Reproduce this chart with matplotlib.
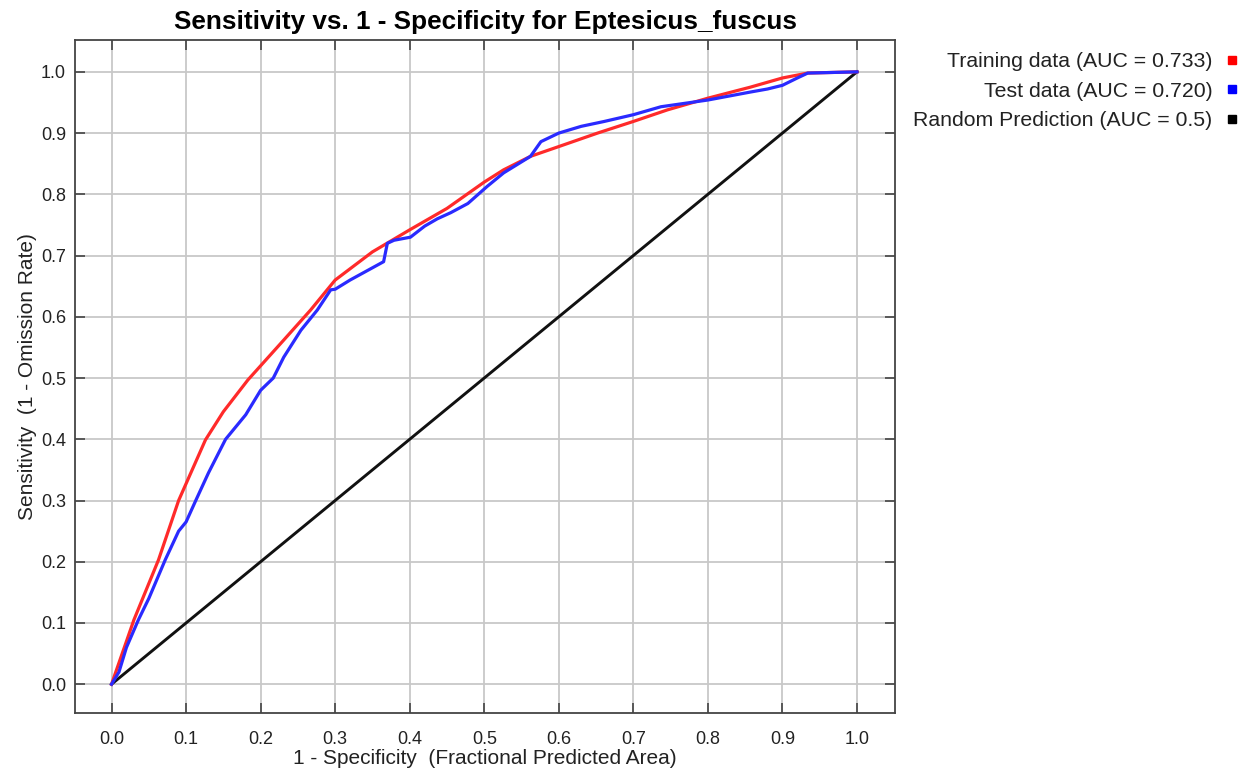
import matplotlib
matplotlib.use("Agg")
import matplotlib.pyplot as plt
from matplotlib.lines import Line2D

plt.rcParams['font.family'] = ['Liberation Sans', 'DejaVu Sans']

title = "Sensitivity vs. 1 - Specificity for Eptesicus_fuscus"
xlabel = "1 - Specificity  (Fractional Predicted Area)"
ylabel = "Sensitivity  (1 - Omission Rate)"
labels = ["Training data (AUC = 0.733)", "Test data (AUC = 0.720)", "Random Prediction (AUC = 0.5)"]
ticks = [0.0, 0.1, 0.2, 0.3, 0.4, 0.5, 0.6, 0.7, 0.8, 0.9, 1.0]

train_x = [0, 0.01, 0.03, 0.063, 0.09, 0.126, 0.15, 0.183, 0.2, 0.231, 0.267, 0.3, 0.35,
           0.4, 0.45, 0.5, 0.526, 0.562, 0.6, 0.652, 0.7, 0.746, 0.8, 0.857, 0.9, 0.934, 1.0]
train_y = [0, 0.035, 0.105, 0.203, 0.30, 0.399, 0.445, 0.497, 0.52, 0.562, 0.611, 0.66, 0.706,
           0.742, 0.777, 0.82, 0.84, 0.862, 0.878, 0.90, 0.919, 0.938, 0.957, 0.975, 0.99, 0.998, 1.0]

test_x = [0, 0.01, 0.02, 0.036, 0.05, 0.072, 0.09, 0.1, 0.113, 0.13, 0.153, 0.18, 0.2, 0.217,
          0.231, 0.254, 0.276, 0.294, 0.3, 0.32, 0.35, 0.365, 0.37, 0.379, 0.401, 0.42, 0.437,
          0.455, 0.478, 0.504, 0.526, 0.562, 0.576, 0.6, 0.63, 0.661, 0.7, 0.737, 0.8, 0.857,
          0.88, 0.9, 0.92, 0.934, 1.0]
test_y = [0, 0.02, 0.06, 0.105, 0.14, 0.203, 0.25, 0.265, 0.30, 0.345, 0.40, 0.44, 0.48, 0.50,
          0.534, 0.578, 0.611, 0.644, 0.645, 0.66, 0.68, 0.69, 0.72, 0.725, 0.73, 0.748, 0.76,
          0.77, 0.785, 0.813, 0.835, 0.862, 0.886, 0.90, 0.911, 0.919, 0.93, 0.943, 0.954, 0.967,
          0.972, 0.978, 0.99, 0.998, 1.0]

rand_x = [0.0, 1.0]
rand_y = [0.0, 1.0]

fig = plt.figure(figsize=(12.44, 7.81), dpi=100)
ax = fig.add_axes([75/1244, 1-713/781, 820/1244, 673/781])

ax.plot(train_x, train_y, color='#ff2a2a', lw=2.3, zorder=3)
ax.plot(test_x, test_y, color='#2a2aff', lw=2.3, zorder=3)
ax.plot(rand_x, rand_y, color='#111111', lw=2.1, zorder=2)

ax.set_xlim(-0.049, 1.051)
ax.set_ylim(-0.047, 1.052)
ax.set_xticks(ticks)
ax.set_yticks(ticks)
ax.set_xticklabels([f"{t:.1f}" for t in ticks])
ax.set_yticklabels([f"{t:.1f}" for t in ticks])
ax.grid(True, color='#c8c8c8', lw=1.3)
ax.set_axisbelow(True)
ax.tick_params(direction='in', length=7, width=1.2, color='#444444', labelsize=13,
               top=True, right=True, labelcolor='#222222')
ax.tick_params(axis='x', pad=13)
ax.tick_params(axis='y', pad=6.5)
for s in ax.spines.values():
    s.set_color('#444444')
    s.set_linewidth(1.3)

ax.set_title(title, fontsize=18.8, fontweight='bold', pad=8)
ax.set_xlabel(xlabel, fontsize=15, labelpad=1, color='#222222')
ax.set_ylabel(ylabel, fontsize=15, labelpad=3, color='#222222')

handles = [Line2D([], [], marker='s', ls='none', color=c, markersize=5.5)
           for c in ['#ff0000', '#0000ff', '#000000']]
fig.legend(handles, labels, loc='upper right', bbox_to_anchor=(1238/1244, 1-52/781),
           frameon=False, markerfirst=False, fontsize=15.3, handlelength=0.6,
           handletextpad=0.6, labelspacing=0.5, borderaxespad=0, borderpad=0,
           labelcolor='#222222')

fig.savefig("out.png", dpi=100)
